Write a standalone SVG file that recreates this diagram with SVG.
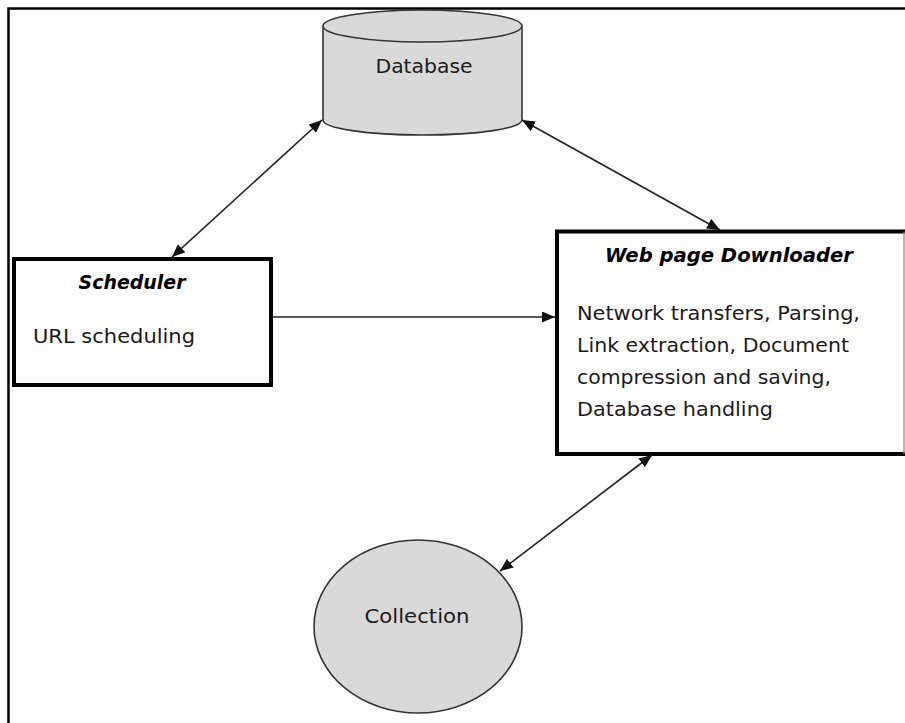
<svg xmlns="http://www.w3.org/2000/svg" width="905" height="723" viewBox="0 0 905 723">
  <style>
    .frame { fill: none; stroke: #000; stroke-width: 2.5; }
    .box { fill: #fff; stroke: #000; stroke-width: 4; }
    .shape { fill: #d9d9d9; stroke: #333; stroke-width: 1.6; }
    .title { font-family: "DejaVu Sans", "Liberation Sans", sans-serif; font-size: 19px; font-weight: bold; font-style: italic; fill: #000; }
    .body { font-family: "DejaVu Sans", "Liberation Sans", sans-serif; font-size: 20px; fill: #1a1a1a; }
    .conn { stroke: #222; stroke-width: 1.6; fill: none; }
  </style>
  <defs>
    <marker id="head" markerUnits="userSpaceOnUse" markerWidth="14" markerHeight="11" refX="13" refY="5.5" orient="auto-start-reverse">
      <path d="M0,0 L13,5.5 L0,11 z" fill="#111"/>
    </marker>
  </defs>

  <rect width="905" height="723" fill="#fff"/>
  <!-- outer frame: only top and left edges are visible -->
  <path class="frame" d="M8.5,723 L8.5,8.5 L905,8.5"/>

  <g id="database">
    <path class="shape" d="M323,26 L323,120 A99.5,15 0 0 0 522,120 L522,26"/>
    <ellipse class="shape" cx="422.5" cy="26" rx="99.5" ry="16"/>
    <text class="body" x="424" y="73" text-anchor="middle" textLength="97" lengthAdjust="spacingAndGlyphs">Database</text>
  </g>

  <g id="scheduler">
    <rect class="box" x="14" y="259" width="257" height="126"/>
    <text class="title" x="132" y="289" text-anchor="middle" textLength="107" lengthAdjust="spacingAndGlyphs">Scheduler</text>
    <text class="body" x="33" y="343" textLength="162" lengthAdjust="spacingAndGlyphs">URL scheduling</text>
  </g>

  <g id="downloader">
    <rect x="557" y="231.5" width="350" height="222.5" fill="#fff"/>
    <path d="M907,231.5 L557,231.5 L557,454 L907,454" fill="none" stroke="#000" stroke-width="4"/>
    <line x1="904" y1="231.5" x2="904" y2="454" stroke="#888" stroke-width="1.2"/>
    <text class="title" x="729" y="262" text-anchor="middle" textLength="248" lengthAdjust="spacingAndGlyphs">Web page Downloader</text>
    <text class="body" x="577" y="320" textLength="283" lengthAdjust="spacingAndGlyphs">Network transfers, Parsing,</text>
    <text class="body" x="577" y="352" textLength="272" lengthAdjust="spacingAndGlyphs">Link extraction, Document</text>
    <text class="body" x="577" y="384" textLength="254" lengthAdjust="spacingAndGlyphs">compression and saving,</text>
    <text class="body" x="577" y="416" textLength="196" lengthAdjust="spacingAndGlyphs">Database handling</text>
  </g>

  <g id="collection">
    <ellipse class="shape" cx="418" cy="626.5" rx="104" ry="86.5"/>
    <text class="body" x="417" y="623" text-anchor="middle" textLength="105" lengthAdjust="spacingAndGlyphs">Collection</text>
  </g>

  <g id="connectors">
    <line class="conn" x1="322" y1="120" x2="172" y2="257" marker-start="url(#head)" marker-end="url(#head)"/>
    <line class="conn" x1="522" y1="120" x2="720" y2="230" marker-start="url(#head)" marker-end="url(#head)"/>
    <line class="conn" x1="273" y1="317" x2="555" y2="317" marker-end="url(#head)"/>
    <line class="conn" x1="652" y1="455" x2="500" y2="571" marker-start="url(#head)" marker-end="url(#head)"/>
  </g>
</svg>
